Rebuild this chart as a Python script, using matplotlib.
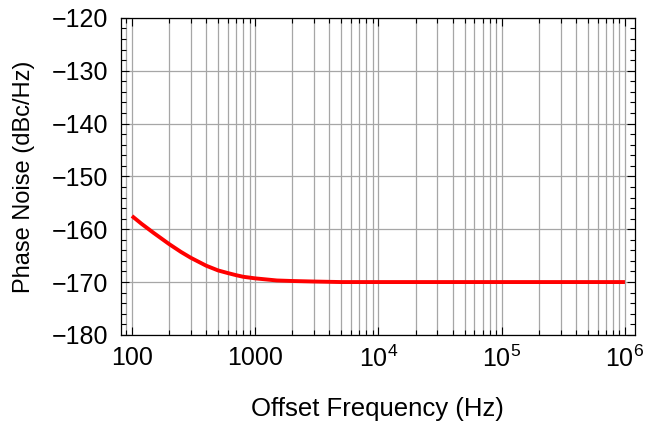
import matplotlib
matplotlib.use("Agg")
import matplotlib.pyplot as plt
from matplotlib.ticker import FixedLocator, FixedFormatter, LogLocator, MultipleLocator, NullFormatter

plt.rcParams['font.family'] = ['Liberation Sans', 'DejaVu Sans']
plt.rcParams['mathtext.fontset'] = 'custom'
plt.rcParams['mathtext.rm'] = 'Liberation Sans'
plt.rcParams['mathtext.it'] = 'Liberation Sans'

# offset frequency (Hz) and phase noise (dBc/Hz)
freq = [100, 120, 150, 200, 250, 300, 400, 500, 600, 700, 800, 1000,
        1500, 2000, 3000, 5000, 1e4, 1e5, 1e6]
noise = [-157.5, -159.0, -160.7, -162.8, -164.3, -165.4, -166.9, -167.8,
         -168.3, -168.7, -169.0, -169.3, -169.7, -169.8, -169.9, -170.0,
         -170.0, -170.0, -170.0]

xticks = [100, 1000, 1e4, 1e5, 1e6]
xticklabels = ['100', '1000', '$10^4$', '$10^5$', '$10^6$']
yticks = [-180, -170, -160, -150, -140, -130, -120]

fig = plt.figure(figsize=(6.47, 4.25), dpi=100)
ax = fig.add_axes([0.187, 0.212, 0.794, 0.746])

ax.plot(freq, noise, color='#ff0000', lw=2.8, solid_capstyle='butt', zorder=3)

ax.set_xscale('log')
ax.set_xlim(81.5, 1.2e6)
ax.set_ylim(-180, -120)

ax.xaxis.set_major_locator(FixedLocator(xticks))
ax.xaxis.set_major_formatter(FixedFormatter(xticklabels))
ax.xaxis.set_minor_locator(LogLocator(base=10, subs=range(2, 10)))
ax.xaxis.set_minor_formatter(NullFormatter())
ax.yaxis.set_major_locator(FixedLocator(yticks))
ax.yaxis.set_minor_locator(MultipleLocator(2))

ax.grid(True, which='major', axis='both', color='#a6a6a6', lw=0.9)
ax.grid(True, which='minor', axis='x', color='#a6a6a6', lw=0.9)

ax.tick_params(which='both', direction='in', top=True, right=True,
               labelsize=18, width=0.8, color='black')
ax.tick_params(axis='x', pad=8)
ax.tick_params(axis='y', pad=9)
ax.tick_params(which='major', length=6)
ax.tick_params(which='minor', length=3.5)
for s in ax.spines.values():
    s.set_linewidth(0.9)

ax.set_xlabel('Offset Frequency (Hz)', fontsize=18.5, labelpad=18)
ax.set_ylabel('Phase Noise (dBc/Hz)', fontsize=17, labelpad=12)

fig.savefig('out.png', dpi=100)
